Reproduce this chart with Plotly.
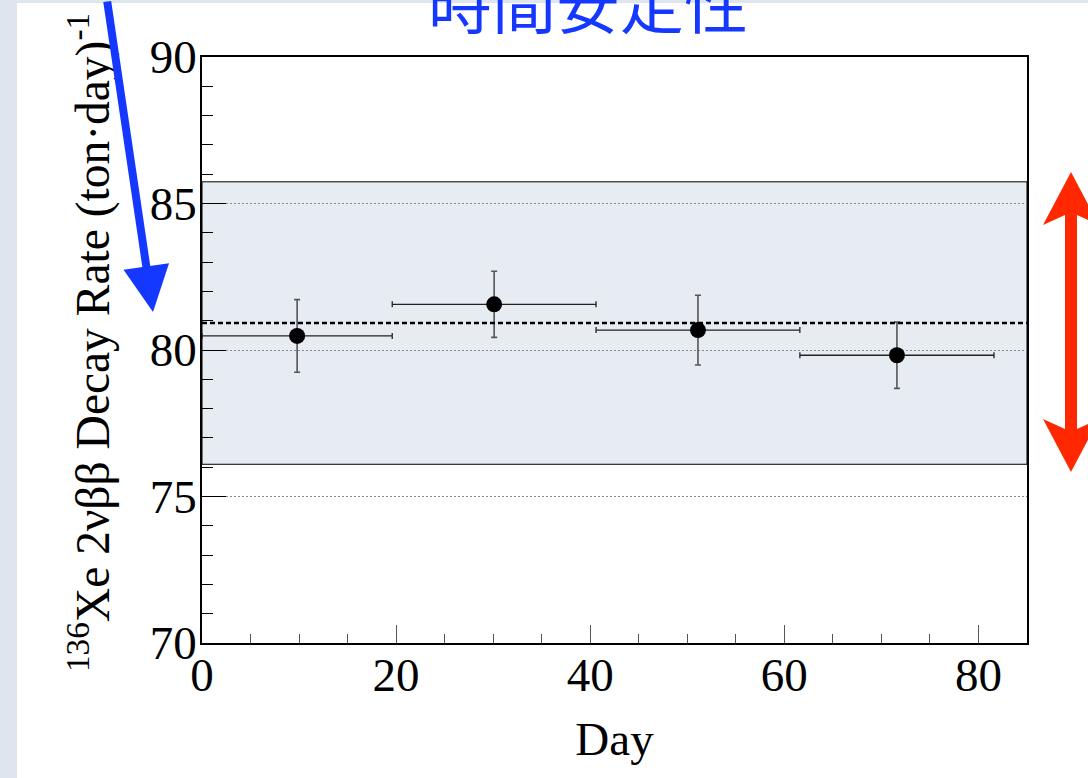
import plotly.graph_objects as go

# Measured decay rate per time bin
days = [9.8, 30.1, 51.1, 71.6]
day_halfwidth = [9.8, 10.5, 10.5, 10.0]
rates = [80.48, 81.56, 80.68, 79.82]
rate_err = [1.24, 1.13, 1.19, 1.13]

# Average rate and its systematic band
mean_rate = 80.92
band_low = 76.1
band_high = 85.74

x_ticks = [0, 20, 40, 60, 80]
y_ticks = [70, 75, 80, 85, 90]

W, H = 1088, 778
ML, MR, MT, MB = 202, 61, 57, 135
PW, PH = W - ML - MR, H - MT - MB


def px(x):
    return (x - ML) / PW


def py(y):
    return 1 - (y - MT) / PH


serif = "Liberation Serif"
blue = "#1438ff"
red = "#ff2800"

fig = go.Figure()

fig.add_trace(go.Scatter(
    x=days, y=rates, mode="markers",
    marker=dict(size=16, color="black"),
    error_x=dict(type="data", array=day_halfwidth, color="#222222",
                 thickness=1.3, width=3),
    error_y=dict(type="data", array=rate_err, color="#555555",
                 thickness=1.6, width=3),
    showlegend=False,
))

shapes = [
    # slide background strips
    dict(type="rect", xref="paper", yref="paper", layer="below",
         x0=px(-5), x1=px(17), y0=py(H + 5), y1=py(-5),
         fillcolor="#dde6ef", line=dict(width=0)),
    dict(type="rect", xref="paper", yref="paper", layer="below",
         x0=px(-5), x1=px(W + 5), y0=py(3), y1=py(-5),
         fillcolor="#dde6ef", line=dict(width=0)),
    # systematic band
    dict(type="rect", xref="x", yref="y", layer="below",
         x0=0, x1=85, y0=band_low, y1=band_high,
         fillcolor="#e6ecf2", line=dict(color="black", width=1)),
    # average rate
    dict(type="line", xref="x", yref="y", x0=0, x1=85,
         y0=mean_rate, y1=mean_rate,
         line=dict(color="black", width=2.5, dash="5px,3px")),
]

# red double-headed arrow beside the plot
cx, top, bot = 1071, 172, 472
hw, sw, hl, notch = 28, 6, 53, 43
pts = [
    (cx, top), (cx + hw, top + hl), (cx + sw, top + notch),
    (cx + sw, bot - notch), (cx + hw, bot - hl), (cx, bot),
    (cx - hw, bot - hl), (cx - sw, bot - notch),
    (cx - sw, top + notch), (cx - hw, top + hl),
]
path = "M " + " L ".join(f"{px(a):.5f},{py(b):.5f}" for a, b in pts) + " Z"
shapes.append(dict(type="path", xref="paper", yref="paper", path=path,
                   fillcolor=red, line=dict(width=0)))

annotations = [
    dict(text="時間安定性", xref="paper", yref="paper",
         x=px(588), y=py(0), xanchor="center", yanchor="middle",
         showarrow=False,
         font=dict(family="Noto Sans CJK JP", size=64, color=blue)),
    dict(text="<sup>136</sup>Xe 2νββ Decay Rate (ton·day)<sup>-1</sup>",
         xref="paper", yref="paper", x=px(90), y=py(343),
         xanchor="center", yanchor="middle", textangle=-90,
         showarrow=False,
         font=dict(family=serif, size=47.5, color="black")),
    dict(text="", xref="paper", yref="paper", x=px(153), y=py(312),
         showarrow=True, ax=-46, ay=-330, arrowhead=2, arrowsize=1.15,
         arrowwidth=8, arrowcolor=blue),
]

fig.update_layout(
    width=W, height=H,
    margin=dict(l=ML, r=MR, t=MT, b=MB),
    paper_bgcolor="white", plot_bgcolor="white",
    shapes=shapes, annotations=annotations,
    xaxis=dict(
        range=[0, 85], tickvals=x_ticks, ticktext=[str(v) for v in x_ticks],
        ticks="inside", ticklen=18, tickwidth=1.2, tickcolor="#555555",
        minor=dict(dtick=5, ticks="inside", ticklen=9, tickwidth=1.2,
                   tickcolor="#555555", showgrid=False),
        showline=True, linecolor="black", linewidth=1.6, mirror=True,
        showgrid=False, zeroline=False, ticklabelstandoff=-10,
        tickfont=dict(family=serif, size=47, color="black"),
        title=dict(text="Day", font=dict(family=serif, size=47, color="black"),
                   standoff=22),
    ),
    yaxis=dict(
        range=[70, 90], tickvals=y_ticks, ticktext=[str(v) for v in y_ticks],
        ticks="inside", ticklen=24, tickwidth=1.2, tickcolor="black",
        minor=dict(dtick=1, ticks="inside", ticklen=11, tickwidth=1.2,
                   tickcolor="black", showgrid=False),
        showline=True, linecolor="black", linewidth=1.6, mirror=True,
        showgrid=True, gridcolor="#8a8a8a", gridwidth=1, griddash="2px,2px",
        zeroline=False, ticklabelstandoff=-6,
        tickfont=dict(family=serif, size=47, color="black"),
    ),
)

fig.write_html("out.html")
